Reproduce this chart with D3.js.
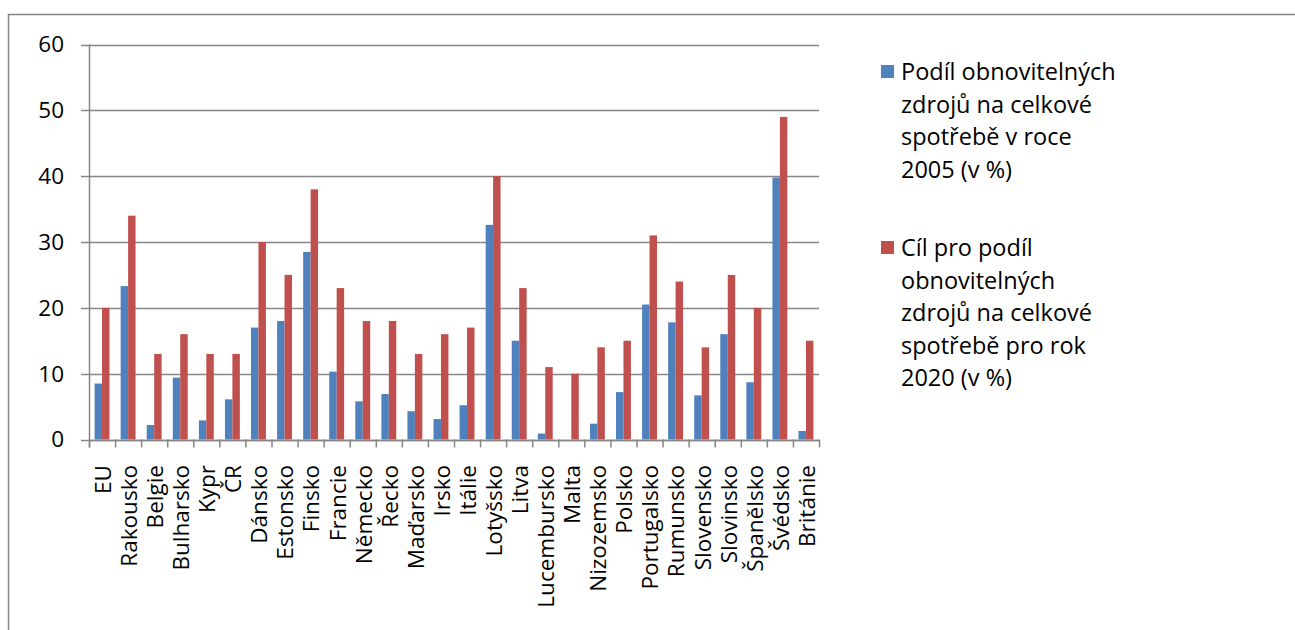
<!DOCTYPE html>
<html>
<head>
<meta charset="utf-8">
<script src="https://cdn.jsdelivr.net/npm/d3@7"></script>
<style>
  html, body { margin: 0; padding: 0; background: #fff; }
  svg { display: block; }
  text { font-family: "Open Sans", Lato, sans-serif; fill: #000; }
</style>
</head>
<body>
<svg id="chart" width="1295" height="630"></svg>
<script>
// Countries (x categories)
const countries = ["EU", "Rakousko", "Belgie", "Bulharsko", "Kypr", "ČR", "Dánsko", "Estonsko",
  "Finsko", "Francie", "Německo", "Řecko", "Maďarsko", "Irsko", "Itálie", "Lotyšsko", "Litva",
  "Lucembursko", "Malta", "Nizozemsko", "Polsko", "Portugalsko", "Rumunsko", "Slovensko",
  "Slovinsko", "Španělsko", "Švédsko", "Británie"];

// Share of renewables in total consumption, 2005 (%)
const share2005 = [8.5, 23.3, 2.2, 9.4, 2.9, 6.1, 17.0, 18.0, 28.5, 10.3, 5.8, 6.9, 4.3, 3.1,
  5.2, 32.6, 15.0, 0.9, 0.0, 2.4, 7.2, 20.5, 17.8, 6.7, 16.0, 8.7, 39.8, 1.3];

// Target share for 2020 (%)
const target2020 = [20, 34, 13, 16, 13, 13, 30, 25, 38, 23, 18, 18, 13, 16,
  17, 40, 23, 11, 10, 14, 15, 31, 24, 14, 25, 20, 49, 15];

const yTicks = [0, 10, 20, 30, 40, 50, 60];

const seriesNames = [
  ["Podíl obnovitelných", "zdrojů na celkové", "spotřebě v roce", "2005 (v %)"],
  ["Cíl pro podíl", "obnovitelných", "zdrojů na celkové", "spotřebě pro rok", "2020 (v %)"]
];
const seriesColors = ["#4F81BD", "#C0504D"];

const svg = d3.select("#chart");
const axisColor = "#868686";

// outer frame (only top and left edges fall inside the view)
svg.append("rect")
  .attr("x", 8.5).attr("y", 14.5)
  .attr("width", 1400).attr("height", 700)
  .attr("fill", "none").attr("stroke", axisColor).attr("stroke-width", 1.5);

const plot = { left: 89, right: 819, top: 44.5, bottom: 439.5 };

const x = d3.scaleBand().domain(countries).range([plot.left, plot.right]).paddingInner(0).paddingOuter(0);
const y = d3.scaleLinear().domain([0, 60]).range([plot.bottom, plot.top]);

// bar group layout: two bars per category, gap of 150% of a bar width
const barW = x.bandwidth() / 3.5;
const offset = x.bandwidth() * 0.75 / 3.5;

// gridlines
svg.append("g")
  .selectAll("line")
  .data(yTicks)
  .join("line")
  .attr("x1", plot.left - 8).attr("x2", plot.right)
  .attr("y1", d => Math.round(y(d)) + 0.5).attr("y2", d => Math.round(y(d)) + 0.5)
  .attr("stroke", axisColor).attr("stroke-width", 1.5);

// y tick labels
svg.append("g")
  .selectAll("text")
  .data(yTicks)
  .join("text")
  .attr("x", 64).attr("y", d => y(d))
  .attr("dy", "0.35em")
  .attr("text-anchor", "end")
  .style("font-size", "22.5px")
  .text(d => d);

// bars
const series = [share2005, target2020];
series.forEach((vals, si) => {
  svg.append("g")
    .selectAll("rect")
    .data(countries)
    .join("rect")
    .attr("x", (c) => x(c) + offset + si * barW)
    .attr("width", barW)
    .attr("y", (c, i) => y(vals[i]))
    .attr("height", (c, i) => y(0) - y(vals[i]))
    .attr("fill", seriesColors[si]);
});

// y axis line
svg.append("line")
  .attr("x1", plot.left + 0.5).attr("x2", plot.left + 0.5)
  .attr("y1", plot.top).attr("y2", plot.bottom + 8)
  .attr("stroke", axisColor).attr("stroke-width", 1.5);

// x axis line and category boundary ticks
const xAxis = svg.append("g");
xAxis.append("line")
  .attr("x1", plot.left).attr("x2", plot.right)
  .attr("y1", Math.round(y(0)) + 0.5).attr("y2", Math.round(y(0)) + 0.5)
  .attr("stroke", axisColor).attr("stroke-width", 1.5);
const bounds = countries.map(c => x(c)).concat([plot.right]);
xAxis.selectAll("line.tick")
  .data(bounds)
  .join("line")
  .attr("class", "tick")
  .attr("x1", d => d + 0.5).attr("x2", d => d + 0.5)
  .attr("y1", plot.bottom).attr("y2", plot.bottom + 8)
  .attr("stroke", axisColor).attr("stroke-width", 1.5);

// rotated country labels
svg.append("g")
  .selectAll("text")
  .data(countries)
  .join("text")
  .attr("transform", c => `translate(${x(c) + x.bandwidth() / 2 + 1},465) rotate(-90)`)
  .attr("dy", "0.35em")
  .attr("text-anchor", "end")
  .style("font-size", "22.5px")
  .text(c => c);

// legend
const legendTops = [80, 256];
seriesNames.forEach((lines, si) => {
  const g = svg.append("g");
  g.append("rect")
    .attr("x", 881).attr("y", legendTops[si] - 15)
    .attr("width", 13).attr("height", 13)
    .attr("fill", seriesColors[si]);
  g.selectAll("text")
    .data(lines)
    .join("text")
    .attr("x", 901)
    .attr("y", (d, i) => legendTops[si] + i * 32.5)
    .style("font-size", "23.5px")
    .text(d => d);
});
</script>
</body>
</html>
